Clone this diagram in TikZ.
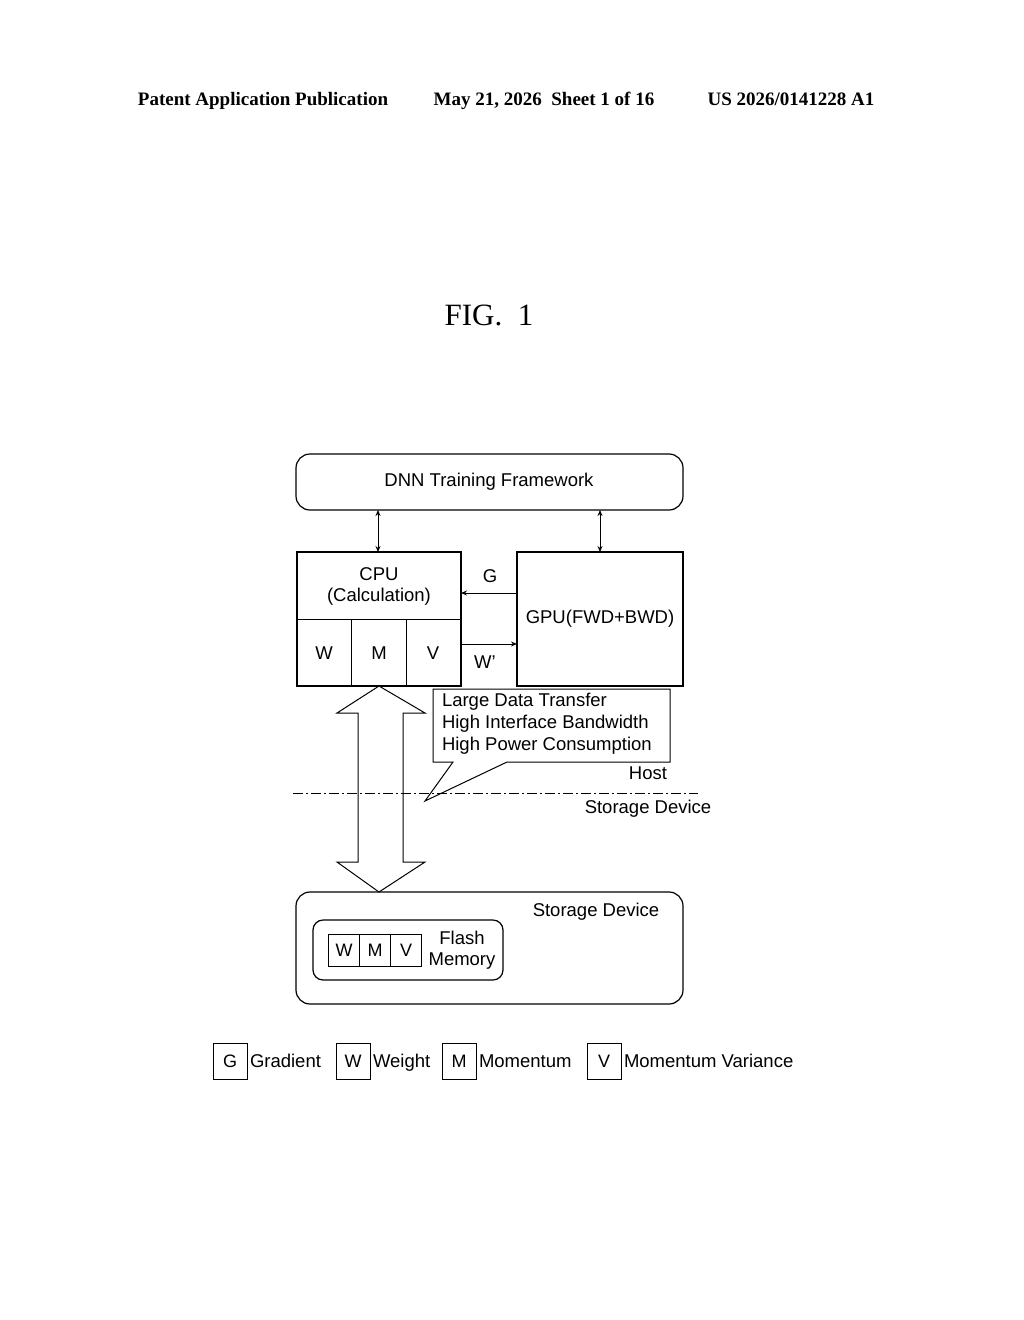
\documentclass[tikz,border=0pt]{standalone}
\usepackage{fontspec}
\setmainfont{Liberation Serif}
\setsansfont{Liberation Sans}
\usetikzlibrary{calc,arrows.meta}

\tikzset{
  blk/.style={draw, line width=1.6pt, inner sep=0pt},
  rblk/.style={draw, line width=1.2pt, rounded corners=14pt, inner sep=0pt},
  cell/.style={draw, line width=1pt, minimum width=34pt, minimum height=36pt, inner sep=0pt, text height=13pt, text depth=0pt, font=\sffamily\fontsize{18}{20}\selectfont},
  lbl/.style={font=\sffamily\fontsize{18.5}{21}\selectfont, inner sep=0pt},
  leg/.style={font=\sffamily\fontsize{18.5}{21}\selectfont, inner sep=0pt, anchor=west, text height=13pt, text depth=0pt},
  hdr/.style={font=\bfseries\fontsize{19}{22}\selectfont, text height=13pt, text depth=4pt},
  link/.style={line width=0.9pt, -{Stealth[length=6pt,width=5pt]}},
  dlink/.style={line width=0.9pt, {Stealth[length=6pt,width=5pt]}-{Stealth[length=6pt,width=5pt]}}
}

\begin{document}
\begin{tikzpicture}[x=1pt,y=-1pt,inner sep=0pt,outer sep=0pt]
    \useasboundingbox (0,0) rectangle (1024,1320);
    % header
    \node[hdr] (hd_pub) at (263,101) {Patent Application Publication};
    \node[hdr] (hd_date) at (544,101) {May 21, 2026\ \ Sheet 1 of 16};
    \node[hdr] (hd_num) at (791,101) {US 2026/0141228 A1};
    \node[font=\fontsize{31}{34}\selectfont] (fig) at (489,315) {FIG.\ \ 1};

    % framework
    \draw[rblk] (296,454) rectangle (683,510);
    \node[lbl] (dnn) at (489,482) {DNN Training Framework};
    \coordinate (dnn_l) at (378,510);
    \coordinate (dnn_r) at (600,510);

    % cpu
    \draw[blk] (297,552) rectangle (461,686);
    \draw[line width=1pt] (297,619) -- (461,619) (351,619) -- (351,686) (406,619) -- (406,686);
    \node[lbl, align=center] (cpu) at (379,586) {CPU\\(Calculation)};
    \node[lbl] (cpu_w) at (324,653) {W};
    \node[lbl] (cpu_m) at (379,653) {M};
    \node[lbl] (cpu_v) at (433,653) {V};
    \coordinate (cpu_t) at (378,552);

    % gpu
    \draw[blk] (517,552) rectangle (683,686);
    \node[lbl] (gpu) at (600,619) {GPU(FWD+BWD)};
    \coordinate (gpu_t) at (600,552);

    \draw[dlink] (dnn_l) -- (cpu_t);
    \draw[dlink] (dnn_r) -- (gpu_t);
    \coordinate (g_from) at (517,593);
    \coordinate (g_to) at (461,593);
    \coordinate (w_from) at (461,644);
    \coordinate (w_to) at (517,644);
    \draw[link] (g_from) -- (g_to);
    \draw[link] (w_from) -- (w_to);
    \node[lbl] (g_lbl) at (490,576) {G};
    \node[lbl] (w_lbl) at (485,662) {W'};

    % big transfer arrow
    \draw[line width=1pt, fill=white] (379,686) -- (425,713) -- (403,713) -- (403,862) -- (425,862)
      -- (379,892) -- (337,862) -- (358,862) -- (358,713) -- (337,713) -- cycle;

    % callout
    \draw[line width=1pt, fill=white] (433,689) -- (670,689) -- (670,762) -- (507,762) -- (425,801)
      -- (453,762) -- (433,762) -- cycle;
    \node[lbl, align=left, anchor=north west, font=\sffamily\fontsize{18.5}{22}\selectfont] (callout) at (442,693)
      {Large Data Transfer\\High Interface Bandwidth\\High Power Consumption};

    % host / storage border
    \draw[line width=0.8pt, dash pattern=on 10pt off 3pt on 2pt off 3pt] (293,793) -- (698,793);
    \node[lbl] (host) at (648,773) {Host};
    \node[lbl] (sd) at (648,809) {Storage Device};

    % storage device
    \draw[rblk] (296,892) rectangle (683,1004);
    \node[lbl] (sd_lbl) at (596,912) {Storage Device};
    \draw[rblk, rounded corners=10pt] (313,920) rectangle (503,980);
    \node[cell, minimum width=31pt, minimum height=32pt] (fl_w) at (344,950) {W};
    \node[cell, minimum width=31pt, minimum height=32pt] (fl_m) at (375,950) {M};
    \node[cell, minimum width=31pt, minimum height=32pt] (fl_v) at (406,950) {V};
    \node[lbl, align=center] (flash) at (462,950) {Flash\\Memory};

    % legend
    \node[cell] (lg_g) at (230,1061) {G};
    \node[leg] (lg_g_t) at ([xshift=3pt]lg_g.east) {Gradient};
    \node[cell] (lg_w) at (353,1061) {W};
    \node[leg] (lg_w_t) at ([xshift=3pt]lg_w.east) {Weight};
    \node[cell] (lg_m) at (459,1061) {M};
    \node[leg] (lg_m_t) at ([xshift=3pt]lg_m.east) {Momentum};
    \node[cell] (lg_v) at (604,1061) {V};
    \node[leg] (lg_v_t) at ([xshift=3pt]lg_v.east) {Momentum Variance};
\end{tikzpicture}
\end{document}
